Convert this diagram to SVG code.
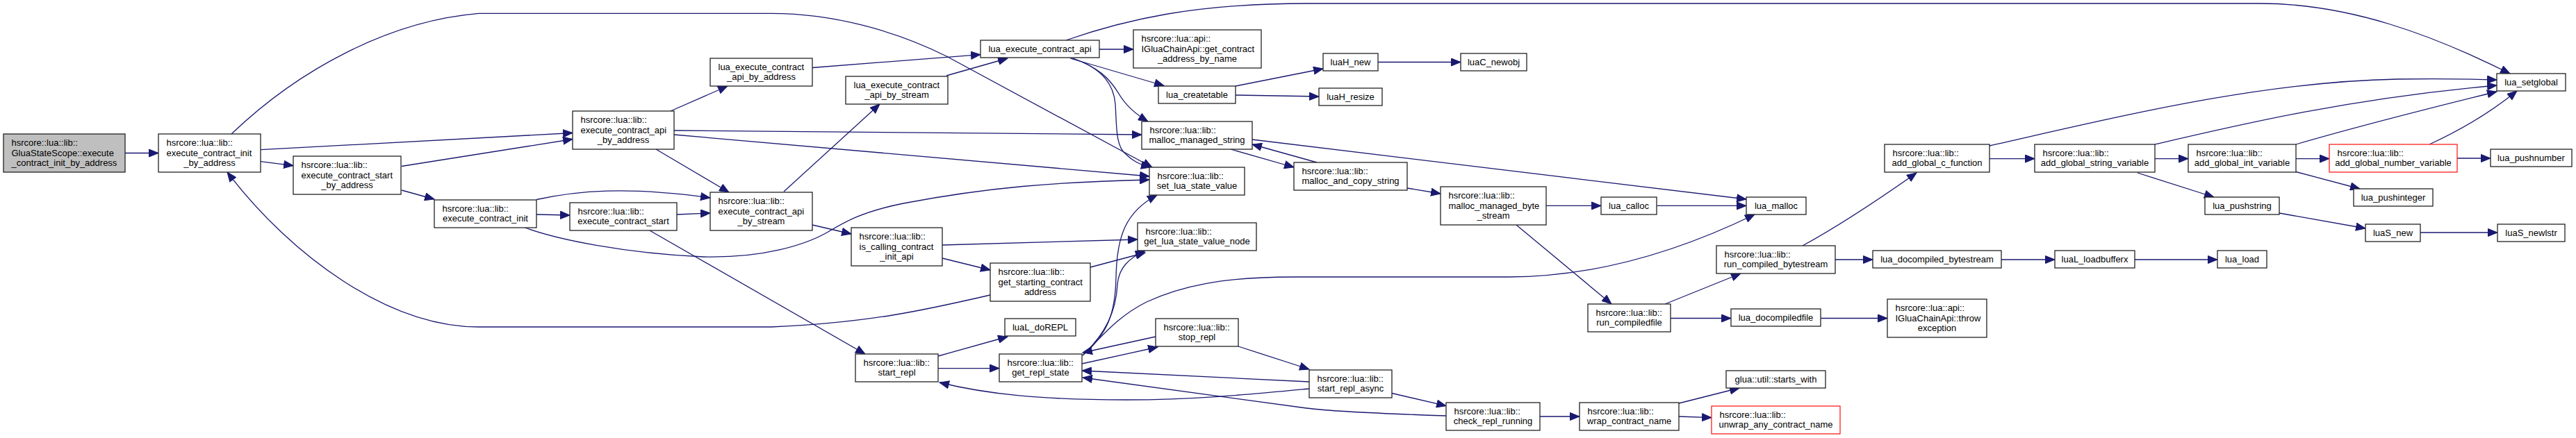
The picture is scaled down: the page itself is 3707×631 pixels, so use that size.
<svg xmlns="http://www.w3.org/2000/svg" width="3707" height="631" viewBox="0 0 3707 631">
<style>
text{font-family:"Liberation Sans",Arial,sans-serif;font-size:13px;fill:#000}
.c{text-anchor:middle}
.n rect{fill:#fff;stroke:#222;stroke-width:1.3}
.g rect{fill:#bfbfbf}
.r rect{stroke:#ff2020}
.e path{fill:none;stroke:#191970;stroke-width:1.3;marker-end:url(#a)}
</style>
<defs>
<marker id="a" markerUnits="userSpaceOnUse" markerWidth="15" markerHeight="12" refX="14" refY="6" orient="auto"><path d="M0.5,0.5 L14,6 L0.5,11.5 z" fill="#191970" stroke="#191970"/></marker>
</defs>
<rect x="0" y="0" width="3707" height="631" fill="#fff"/>
<g class="e">
<path d="M180,220.5 L228,220.5"/>
<path d="M375,232.7 L422,238.7"/>
<path d="M375,215.7 L824,191.5"/>
<path d="M578,239.5 L824,200.5"/>
<path d="M578,274 L625,287"/>
<path d="M333,193 C430,100 560,30 689,19.4 L1110,19.4 C1200,19.4 1290,45 1362,81 L1658,241"/>
<path d="M965,160 L1047,124"/>
<path d="M970,188 L1643,194"/>
<path d="M970,194 L1654,254"/>
<path d="M944,215 L1049,277"/>
<path d="M772,287.5 C830,275 900,268 1022,285"/>
<path d="M772,309 L820,310"/>
<path d="M974,309 L1022,307"/>
<path d="M753,327 C800,345 900,365 1012,370 C1100,372 1160,352 1190,335 C1215,320 1240,305 1300,293 C1420,270 1520,262 1654,259"/>
<path d="M1128,276 L1266,150"/>
<path d="M1169,324 L1225,337"/>
<path d="M934,331.5 L1245,510"/>
<path d="M1425,425 C1330,447 1250,465 1110,471 L689,471 C560,471 420,370 327,248"/>
<path d="M1169,97.5 L1411,78.6"/>
<path d="M1362,109 L1450,84"/>
<path d="M1534,58 C1620,28 1720,5 1880,5 L3252,5 C3380,5 3500,50 3612,106"/>
<path d="M1582,71 L1631,71"/>
<path d="M1540,84 L1675,123.5"/>
<path d="M1542,84 C1580,95 1598,115 1610,135 C1620,152 1635,165 1652,175"/>
<path d="M1544,84 C1590,100 1603,125 1605,150 C1607,180 1605,210 1620,222 C1630,232 1640,237 1656,241"/>
<path d="M1778,124 L1904,99"/>
<path d="M1778,137 L1898,139"/>
<path d="M1983,89.5 L2102,89.5"/>
<path d="M1802,201 L2513,287"/>
<path d="M1771,215 L1862,241"/>
<path d="M1895,234 L1802,208"/>
<path d="M2025,271 L2073,279"/>
<path d="M2225,296.4 L2304,296.4"/>
<path d="M2384.5,296.4 L2513,296.4"/>
<path d="M2182,324 L2319,438"/>
<path d="M2396,438 L2505,394"/>
<path d="M2404,458.5 L2491,458.5"/>
<path d="M1558,512 C1590,480 1610,455 1650,435 C1700,412 1760,399 1860,399 L2170,399 C2300,399 2420,360 2525,309"/>
<path d="M1558,512 C1595,480 1605,450 1606,400 C1607,340 1620,305 1665,281"/>
<path d="M1562,508 C1590,480 1606,450 1608,410 C1610,385 1625,372 1648,361"/>
<path d="M1557,524 L1666,500"/>
<path d="M1663,485 L1558,508"/>
<path d="M1782,499 L1884,532"/>
<path d="M1884,550 L1557,534"/>
<path d="M1884,560 C1800,568 1720,576 1620,576 C1500,576 1420,568 1352,551"/>
<path d="M2081,599 C1990,596 1920,593 1880,588 L1558,544"/>
<path d="M2003,566.5 L2081,584.7"/>
<path d="M2216,600 L2273,600"/>
<path d="M2416,581 L2503,559"/>
<path d="M2416,600 L2463,601.7"/>
<path d="M2594,354 Q2660,318 2758,249"/>
<path d="M2641,374 L2695,374"/>
<path d="M2880,374 L2957,374"/>
<path d="M3072,374 L3191,374"/>
<path d="M2620,458.5 L2716,458.5"/>
<path d="M2863,228.6 L2928,228.6"/>
<path d="M2863,210 C3050,168 3250,118 3450,114 C3520,113 3560,114 3593,115"/>
<path d="M3101,208 C3220,180 3380,142 3593,123"/>
<path d="M3101,228.6 L3149,228.6"/>
<path d="M3076,249 L3186,284"/>
<path d="M3304,208 C3400,180 3500,155 3593,132"/>
<path d="M3304,228.6 L3352,228.6"/>
<path d="M3302,247 L3396,272"/>
<path d="M3496,208 C3540,188 3580,165 3622,131"/>
<path d="M3536,228 L3584,228"/>
<path d="M3280,307 L3404,329"/>
<path d="M3483,335 L3594,335"/>
<path d="M1356,353 L1637,345"/>
<path d="M1356,372 L1425,389"/>
<path d="M1569,385 L1648,364"/>
<path d="M1350,513 L1450,485"/>
<path d="M1350,530.6 L1438,530.6"/>
</g>
<g id="n_scope_init" class="n g"><rect x="5" y="193" width="175" height="55"/><text x="16.5" y="210">hsrcore::lua::lib::</text><text x="16.5" y="224.5">GluaStateScope::execute</text><text class="c" x="92.5" y="239">_contract_init_by_address</text></g>
<g id="n_exec_init_by_addr" class="n"><rect x="228" y="193" width="147" height="55"/><text x="239.5" y="210">hsrcore::lua::lib::</text><text x="239.5" y="224.5">execute_contract_init</text><text class="c" x="301.5" y="239">_by_address</text></g>
<g id="n_exec_start_by_addr" class="n"><rect x="422" y="225" width="155" height="55"/><text x="433.5" y="242">hsrcore::lua::lib::</text><text x="433.5" y="256.5">execute_contract_start</text><text class="c" x="499.5" y="271">_by_address</text></g>
<g id="n_exec_api_by_addr" class="n"><rect x="824" y="160" width="146" height="55"/><text x="835.5" y="177">hsrcore::lua::lib::</text><text x="835.5" y="191.5">execute_contract_api</text><text class="c" x="897" y="206">_by_address</text></g>
<g id="n_lua_exec_api_by_addr" class="n"><rect x="1022" y="84" width="147" height="40"/><text x="1033.5" y="100.5">lua_execute_contract</text><text class="c" x="1095.5" y="115">_api_by_address</text></g>
<g id="n_lua_exec_api_by_stream" class="n"><rect x="1217" y="110" width="147" height="40"/><text x="1228.5" y="126.5">lua_execute_contract</text><text class="c" x="1290.5" y="141">_api_by_stream</text></g>
<g id="n_exec_init" class="n"><rect x="625" y="288" width="147" height="40"/><text x="636.5" y="304.5">hsrcore::lua::lib::</text><text class="c" x="698.5" y="319">execute_contract_init</text></g>
<g id="n_exec_start" class="n"><rect x="820" y="292" width="154" height="40"/><text x="831.5" y="308.5">hsrcore::lua::lib::</text><text class="c" x="897" y="323">execute_contract_start</text></g>
<g id="n_exec_api_by_stream" class="n"><rect x="1022" y="277" width="147" height="55"/><text x="1033.5" y="294">hsrcore::lua::lib::</text><text x="1033.5" y="308.5">execute_contract_api</text><text class="c" x="1095.5" y="323">_by_stream</text></g>
<g id="n_is_calling" class="n"><rect x="1225" y="328" width="131" height="55"/><text x="1236.5" y="345">hsrcore::lua::lib::</text><text x="1236.5" y="359.5">is_calling_contract</text><text class="c" x="1290.5" y="374">_init_api</text></g>
<g id="n_start_repl" class="n"><rect x="1231" y="510" width="119" height="40"/><text x="1242.5" y="526.5">hsrcore::lua::lib::</text><text class="c" x="1290.5" y="541">start_repl</text></g>
<g id="n_lua_exec_api" class="n"><rect x="1411" y="58" width="171" height="25"/><text class="c" x="1496.5" y="75">lua_execute_contract_api</text></g>
<g id="n_get_contract_addr" class="n"><rect x="1631" y="43" width="184" height="55"/><text x="1642.5" y="60">hsrcore::lua::api::</text><text x="1642.5" y="74.5">IGluaChainApi::get_contract</text><text class="c" x="1723" y="89">_address_by_name</text></g>
<g id="n_lua_createtable" class="n"><rect x="1667" y="124" width="111" height="25"/><text class="c" x="1722.5" y="141">lua_createtable</text></g>
<g id="n_malloc_managed_string" class="n"><rect x="1643" y="175" width="159" height="40"/><text x="1654.5" y="191.5">hsrcore::lua::lib::</text><text class="c" x="1722.5" y="206">malloc_managed_string</text></g>
<g id="n_set_lua_state_value" class="n"><rect x="1654" y="241" width="137" height="40"/><text x="1665.5" y="257.5">hsrcore::lua::lib::</text><text class="c" x="1722.5" y="272">set_lua_state_value</text></g>
<g id="n_get_lua_state_value_node" class="n"><rect x="1637" y="321" width="171" height="40"/><text x="1648.5" y="337.5">hsrcore::lua::lib::</text><text class="c" x="1722.5" y="352">get_lua_state_value_node</text></g>
<g id="n_get_starting" class="n"><rect x="1425" y="379" width="144" height="55"/><text x="1436.5" y="396">hsrcore::lua::lib::</text><text x="1436.5" y="410.5">get_starting_contract</text><text class="c" x="1497" y="425">address</text></g>
<g id="n_luaL_doREPL" class="n"><rect x="1446" y="459" width="102" height="25"/><text class="c" x="1497" y="476">luaL_doREPL</text></g>
<g id="n_get_repl_state" class="n"><rect x="1438" y="510" width="119" height="40"/><text x="1449.5" y="526.5">hsrcore::lua::lib::</text><text class="c" x="1497.5" y="541">get_repl_state</text></g>
<g id="n_stop_repl" class="n"><rect x="1663" y="459" width="119" height="40"/><text x="1674.5" y="475.5">hsrcore::lua::lib::</text><text class="c" x="1722.5" y="490">stop_repl</text></g>
<g id="n_malloc_and_copy" class="n"><rect x="1862" y="234" width="163" height="40"/><text x="1873.5" y="250.5">hsrcore::lua::lib::</text><text class="c" x="1943.5" y="265">malloc_and_copy_string</text></g>
<g id="n_malloc_byte_stream" class="n"><rect x="2073" y="269" width="152" height="55"/><text x="2084.5" y="286">hsrcore::lua::lib::</text><text x="2084.5" y="300.5">malloc_managed_byte</text><text class="c" x="2149" y="315">_stream</text></g>
<g id="n_luaH_new" class="n"><rect x="1904" y="77" width="79" height="25"/><text class="c" x="1943.5" y="94">luaH_new</text></g>
<g id="n_luaC_newobj" class="n"><rect x="2102" y="77" width="95" height="25"/><text class="c" x="2149.5" y="94">luaC_newobj</text></g>
<g id="n_luaH_resize" class="n"><rect x="1898" y="127" width="91" height="25"/><text class="c" x="1943.5" y="144">luaH_resize</text></g>
<g id="n_lua_calloc" class="n"><rect x="2304" y="284" width="80" height="25"/><text class="c" x="2344" y="301">lua_calloc</text></g>
<g id="n_run_compiledfile" class="n"><rect x="2285" y="438" width="119" height="40"/><text x="2296.5" y="454.5">hsrcore::lua::lib::</text><text class="c" x="2344.5" y="469">run_compiledfile</text></g>
<g id="n_start_repl_async" class="n"><rect x="1884" y="533" width="119" height="40"/><text x="1895.5" y="549.5">hsrcore::lua::lib::</text><text class="c" x="1943.5" y="564">start_repl_async</text></g>
<g id="n_check_repl_running" class="n"><rect x="2081" y="580" width="135" height="40"/><text x="2092.5" y="596.5">hsrcore::lua::lib::</text><text class="c" x="2148.5" y="611">check_repl_running</text></g>
<g id="n_wrap_contract_name" class="n"><rect x="2273" y="580" width="143" height="40"/><text x="2284.5" y="596.5">hsrcore::lua::lib::</text><text class="c" x="2344.5" y="611">wrap_contract_name</text></g>
<g id="n_lua_malloc" class="n"><rect x="2513" y="284" width="86" height="25"/><text class="c" x="2556" y="301">lua_malloc</text></g>
<g id="n_run_compiled_bytestream" class="n"><rect x="2470" y="354" width="171" height="40"/><text x="2481.5" y="370.5">hsrcore::lua::lib::</text><text class="c" x="2555.5" y="385">run_compiled_bytestream</text></g>
<g id="n_add_global_c_function" class="n"><rect x="2712" y="208" width="151" height="40"/><text x="2723.5" y="224.5">hsrcore::lua::lib::</text><text class="c" x="2787.5" y="239">add_global_c_function</text></g>
<g id="n_add_global_string_variable" class="n"><rect x="2928" y="208" width="173" height="40"/><text x="2939.5" y="224.5">hsrcore::lua::lib::</text><text class="c" x="3014.5" y="239">add_global_string_variable</text></g>
<g id="n_lua_docompiled_bytestream" class="n"><rect x="2695" y="361" width="185" height="25"/><text class="c" x="2787.5" y="378">lua_docompiled_bytestream</text></g>
<g id="n_luaL_loadbufferx" class="n"><rect x="2957" y="361" width="115" height="25"/><text class="c" x="3014.5" y="378">luaL_loadbufferx</text></g>
<g id="n_lua_docompiledfile" class="n"><rect x="2491" y="445" width="129" height="25"/><text class="c" x="2555.5" y="462">lua_docompiledfile</text></g>
<g id="n_throw_exception" class="n"><rect x="2716" y="431" width="143" height="55"/><text x="2727.5" y="448">hsrcore::lua::api::</text><text x="2727.5" y="462.5">IGluaChainApi::throw</text><text class="c" x="2787.5" y="477">exception</text></g>
<g id="n_starts_with" class="n"><rect x="2484" y="534" width="143" height="25"/><text class="c" x="2555.5" y="551">glua::util::starts_with</text></g>
<g id="n_unwrap_any_contract_name" class="n r"><rect x="2463" y="585" width="185" height="40"/><text x="2474.5" y="601.5">hsrcore::lua::lib::</text><text class="c" x="2555.5" y="616">unwrap_any_contract_name</text></g>
<g id="n_lua_setglobal" class="n"><rect x="3593" y="106" width="99" height="25"/><text class="c" x="3642.5" y="123">lua_setglobal</text></g>
<g id="n_add_global_int_variable" class="n"><rect x="3149" y="208" width="155" height="40"/><text x="3160.5" y="224.5">hsrcore::lua::lib::</text><text class="c" x="3226.5" y="239">add_global_int_variable</text></g>
<g id="n_add_global_number_variable" class="n r"><rect x="3352" y="208" width="184" height="40"/><text x="3363.5" y="224.5">hsrcore::lua::lib::</text><text class="c" x="3444" y="239">add_global_number_variable</text></g>
<g id="n_lua_pushnumber" class="n"><rect x="3584" y="215" width="117" height="25"/><text class="c" x="3642.5" y="232">lua_pushnumber</text></g>
<g id="n_lua_pushinteger" class="n"><rect x="3387" y="272" width="114" height="25"/><text class="c" x="3444" y="289">lua_pushinteger</text></g>
<g id="n_lua_pushstring" class="n"><rect x="3173" y="284" width="107" height="25"/><text class="c" x="3226.5" y="301">lua_pushstring</text></g>
<g id="n_luaS_new" class="n"><rect x="3404" y="323" width="79" height="25"/><text class="c" x="3443.5" y="340">luaS_new</text></g>
<g id="n_luaS_newlstr" class="n"><rect x="3594" y="323" width="97" height="25"/><text class="c" x="3642.5" y="340">luaS_newlstr</text></g>
<g id="n_lua_load" class="n"><rect x="3191" y="361" width="71" height="25"/><text class="c" x="3226.5" y="378">lua_load</text></g>
</svg>
